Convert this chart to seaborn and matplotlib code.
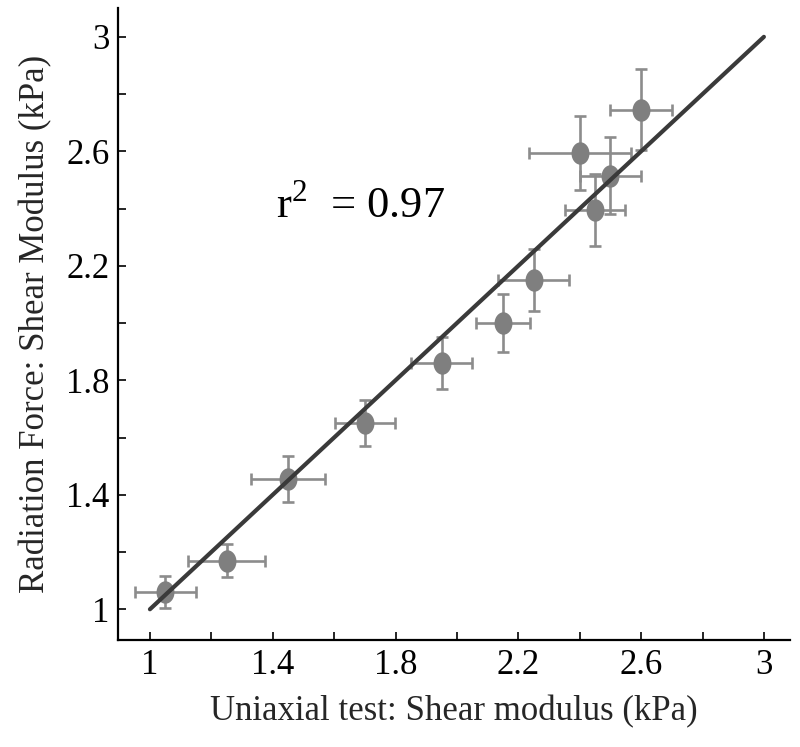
import numpy as np
import matplotlib
matplotlib.use("Agg")
import matplotlib.pyplot as plt
from matplotlib.path import Path
import seaborn as sns
import pandas as pd

# --- DATA ---
uniaxial = [1.05, 1.25, 1.45, 1.70, 1.95, 2.15, 2.25, 2.40, 2.45, 2.50, 2.60]
radiation = [1.06, 1.17, 1.455, 1.65, 1.86, 2.00, 2.15, 2.595, 2.395, 2.515, 2.745]
x_err = [0.10, 0.125, 0.12, 0.098, 0.098, 0.087, 0.115, 0.166, 0.097, 0.099, 0.102]
y_err = [0.057, 0.059, 0.079, 0.08, 0.09, 0.10, 0.109, 0.13, 0.125, 0.134, 0.142]

fit_x = [1.0, 3.0]
fit_y = [1.0, 3.0]

r2_text = "r$^{2}$  = 0.97"
x_ticks = [1.0, 1.2, 1.4, 1.6, 1.8, 2.0, 2.2, 2.4, 2.6, 2.8, 3.0]
x_tick_labels = ["1", "", "1.4", "", "1.8", "", "2.2", "", "2.6", "", "3"]
y_ticks = [1.0, 1.2, 1.4, 1.6, 1.8, 2.0, 2.2, 2.4, 2.6, 2.8, 3.0]
y_tick_labels = ["1", "", "1.4", "", "1.8", "", "2.2", "", "2.6", "", "3"]

df = pd.DataFrame({"uniaxial": uniaxial, "radiation": radiation})
fit_df = pd.DataFrame({"x": fit_x, "y": fit_y})

sns.set_theme(style="white")
plt.rcParams['font.family'] = ['Liberation Serif', 'DejaVu Serif']
plt.rcParams['mathtext.fontset'] = 'custom'
plt.rcParams['mathtext.rm'] = 'Liberation Serif'

fig = plt.figure(figsize=(8.0, 7.47), dpi=100)
ax = fig.add_axes([0.1475, 0.143, 0.84, 0.846])

# ellipse-shaped marker, a bit taller than wide
t = np.linspace(0, 2 * np.pi, 60)
ellipse = Path(np.column_stack([0.8 * np.cos(t), np.sin(t)]), closed=True)

ax.errorbar(uniaxial, radiation, xerr=x_err, yerr=y_err, fmt='none',
            ecolor='#8c8c8c', elinewidth=1.9, capsize=4, capthick=1.9, zorder=2)
sns.scatterplot(data=df, x="uniaxial", y="radiation", marker=ellipse, s=260,
                color='#7f7f7f', edgecolor='#7f7f7f', linewidth=0, ax=ax, zorder=3)
sns.lineplot(data=fit_df, x="x", y="y", color='#3a3a3a', lw=3.0, ax=ax, zorder=4)

ax.text(1.41, 2.367, r2_text, fontsize=32, color='black')

ax.set_xlim(0.896, 3.085)
ax.set_ylim(0.892, 3.10)
ax.set_xticks(x_ticks)
ax.set_xticklabels(x_tick_labels)
ax.set_yticks(y_ticks)
ax.set_yticklabels(y_tick_labels)
ax.tick_params(direction='in', length=6, width=1.2, colors='black', labelsize=25,
               bottom=True, left=True, pad=6)

for side in ['top', 'right']:
    ax.spines[side].set_visible(False)
for side in ['left', 'bottom']:
    ax.spines[side].set_color('black')
    ax.spines[side].set_linewidth(1.6)

ax.set_xlabel('Uniaxial test: Shear modulus (kPa)', fontsize=25, labelpad=10)
ax.set_ylabel('Radiation Force: Shear Modulus (kPa)', fontsize=25, labelpad=10)

fig.savefig("out.png", dpi=100)
